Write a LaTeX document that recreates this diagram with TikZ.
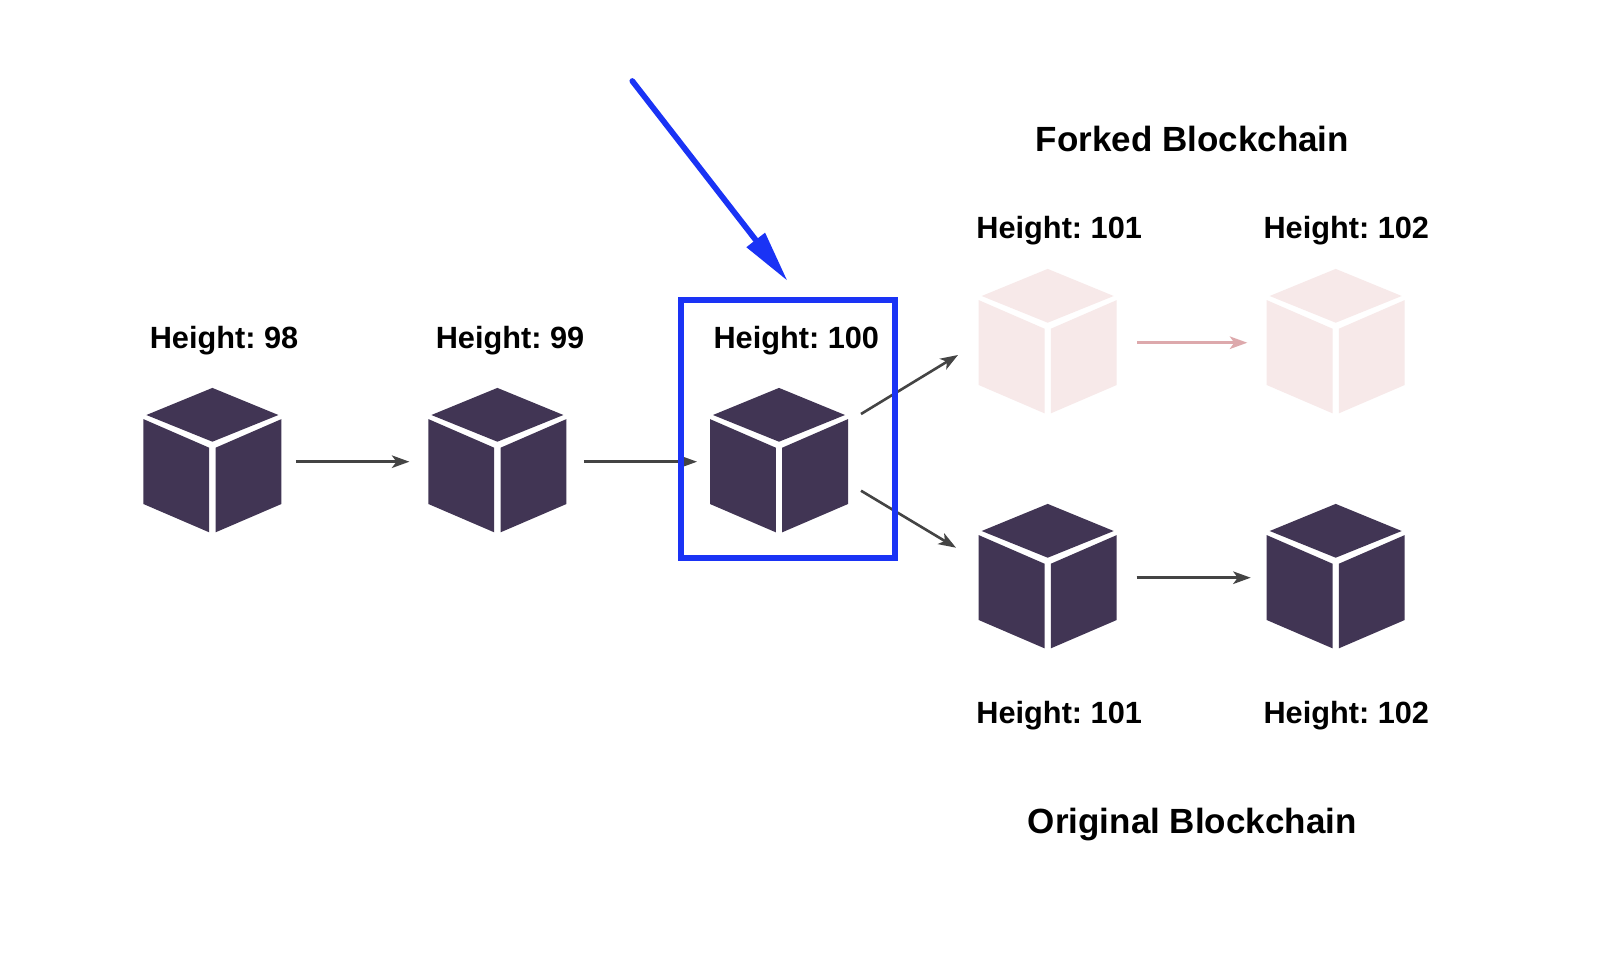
\documentclass[tikz,border=0pt]{standalone}
\usepackage{fontspec}
\setmainfont{Liberation Sans}
\usetikzlibrary{arrows.meta}
\definecolor{cubedark}{HTML}{413554}
\definecolor{cubepale}{HTML}{F7E9E9}
\definecolor{arrowdark}{HTML}{444444}
\definecolor{arrowpale}{HTML}{DDA9AC}
\definecolor{markblue}{HTML}{1A33F5}
\tikzset{
  x=1pt,y=-1pt,
  cubebox/.style={minimum width=138pt,minimum height=144pt,inner sep=0pt,outer sep=0pt},
  cubeface/.pic={
    \fill[pic actions] (0,-72.4) -- (66,-45.3) -- (0,-18.6) -- (-66,-45.3) -- cycle;
    \fill[pic actions] (-69,-41.2) -- (-3.2,-12.6) -- (-3.2,72) -- (-69,43.7) -- cycle;
    \fill[pic actions] (69,-41.2) -- (3.2,-12.6) -- (3.2,72) -- (69,43.7) -- cycle;
  },
  link/.style={draw=arrowdark,line width=2.6pt,-{Stealth[length=17.5pt,width=12.5pt,inset=4.5pt]}},
  palelink/.style={link,draw=arrowpale},
  heightlabel/.style={anchor=base,inner sep=0pt,font=\fontsize{30.7pt}{36pt}\selectfont\bfseries\frenchspacing},
  titlelabel/.style={anchor=base,inner sep=0pt,font=\fontsize{35pt}{42pt}\selectfont\bfseries\frenchspacing},
  markbox/.style={draw=markblue,line width=5.7pt},
  marker/.style={draw=markblue,line width=5.7pt,line cap=round,-{Triangle[length=52pt,width=22pt,sharp]}}
}
\newcommand{\cubeat}[4]{%
  \node[cubebox] (#1) at (#2,#3) {};
  \pic[fill=#4] at (#1.center) {cubeface};
}
\begin{document}
\begin{tikzpicture}
\useasboundingbox (0,0) rectangle (1612,978);
\fill[white] (0,0) rectangle (1612,978);

\cubeat{a}{212.4}{460.3}{cubedark}
\cubeat{b}{497.4}{460.3}{cubedark}
\cubeat{c}{779}{460.3}{cubedark}
\cubeat{d}{1047.7}{341.3}{cubepale}
\cubeat{e}{1335.7}{341.3}{cubepale}
\cubeat{f}{1047.7}{576.3}{cubedark}
\cubeat{g}{1335.7}{576.3}{cubedark}

\node[heightlabel] (la) at (224,348.3) {Height: 98};
\node[heightlabel] (lb) at (510,348.3) {Height: 99};
\node[heightlabel] (lc) at (796.3,348.3) {Height: 100};
\node[heightlabel] (ld) at (1059.2,238.3) {Height: 101};
\node[heightlabel] (le) at (1346.3,238.3) {Height: 102};
\node[heightlabel] (lf) at (1059.2,723.3) {Height: 101};
\node[heightlabel] (lg) at (1346.3,723.3) {Height: 102};
\node[titlelabel] (tf) at (1192.5,151.7) {Forked Blockchain};
\node[titlelabel] (to) at (1192.3,833.3) {Original Blockchain};

\coordinate (cup) at (861,414);
\coordinate (dend) at (958,355);
\coordinate (cdown) at (861,490.7);
\coordinate (fend) at (956,547.7);
\coordinate (mstart) at (632.3,81);
\coordinate (mend) at (787.6,281);

\draw[link,shorten <=14.4pt,shorten >=19pt] ([yshift=-1.4pt]a.east) -- ([yshift=-1.4pt]b.west);
\draw[link,shorten <=17.5pt,shorten >=13pt] ([yshift=-1.4pt]b.east) -- ([yshift=-1.4pt]c.west);
\draw[link] (cup) -- (dend);
\draw[link] (cdown) -- (fend);
\draw[palelink,shorten <=20.6pt,shorten >=19.4pt] ([yshift=-1.4pt]d.east) -- ([yshift=-1.4pt]e.west);
\draw[link,shorten <=20pt,shorten >=16pt] ([yshift=-1.4pt]f.east) -- ([yshift=-1.4pt]g.west);

\node[markbox,minimum width=214.6pt,minimum height=257.4pt,inner sep=0pt,outer sep=0pt] (hl) at (788,429) {};
\draw[marker] (mstart) -- (mend);
\end{tikzpicture}
\end{document}
